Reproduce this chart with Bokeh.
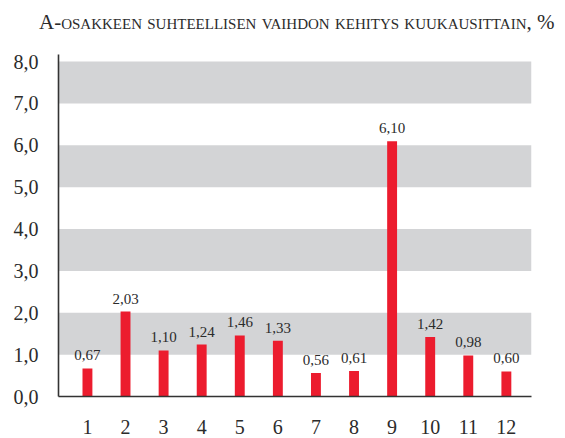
from bokeh.plotting import figure
from bokeh.models import Range1d, BoxAnnotation, ColumnDataSource, Div, FixedTicker
from bokeh.layouts import column
from bokeh.embed import file_html
from bokeh.resources import INLINE
from bokeh.core.properties import value

title_text = "A-osakkeen suhteellisen vaihdon kehitys kuukausittain, %"
months = [1, 2, 3, 4, 5, 6, 7, 8, 9, 10, 11, 12]
values = [0.67, 2.03, 1.10, 1.24, 1.46, 1.33, 0.56, 0.61, 6.10, 1.42, 0.98, 0.60]
y_ticks = [0, 1, 2, 3, 4, 5, 6, 7, 8]
band_bottoms = [1, 3, 5, 7]
band_tops = [2, 4, 6, 8]

FONT = "Liberation Serif"
TEXT = "#2b2b2b"

labels = [f"{v:.2f}".replace(".", ",") for v in values]
src = ColumnDataSource(dict(x=months, top=values, label=labels))

p = figure(width=557, height=401, output_backend="svg", toolbar_location=None,
           x_range=Range1d(0.24, 12.66), y_range=Range1d(0, 8.17),
           min_border_left=58, min_border_right=26, min_border_top=19, min_border_bottom=40)
p.outline_line_color = None
p.xgrid.visible = False
p.ygrid.visible = False
p.background_fill_color = "white"
p.border_fill_color = None

for b, t in zip(band_bottoms, band_tops):
    p.add_layout(BoxAnnotation(bottom=b, top=t, fill_color="#d3d4d6", fill_alpha=1.0,
                               line_color=None, level="underlay"))

p.vbar(x="x", top="top", width=0.26, bottom=0, source=src, fill_color="#ec1c2e", line_color=None)
p.text(x="x", y="top", text="label", source=src, text_align="center", text_baseline="bottom",
       y_offset=-8, text_font=value(FONT), text_font_size="15px", text_color=TEXT)

p.yaxis.ticker = FixedTicker(ticks=y_ticks)
p.yaxis.major_label_overrides = {t: f"{t:.1f}".replace(".", ",") for t in y_ticks}
p.xaxis.ticker = FixedTicker(ticks=months)
p.xaxis.major_label_overrides = {m: str(m) for m in months}
for ax in (p.xaxis[0], p.yaxis[0]):
    ax.axis_line_color = "#333333"
    ax.axis_line_width = 1.6
    ax.major_tick_line_color = None
    ax.minor_tick_line_color = None
    ax.major_label_text_font = FONT
    ax.major_label_text_font_size = "20px"
    ax.major_label_text_color = TEXT
p.yaxis.major_label_standoff = 14
p.xaxis.major_label_standoff = 17

div = Div(text=title_text, width=557, height=25,
          styles={"font-family": FONT, "font-size": "21px", "font-variant": "small-caps",
                  "color": TEXT, "line-height": "35px", "padding-left": "34px",
                  "box-sizing": "border-box", "white-space": "nowrap", "overflow": "visible"})

layout = column(div, p, spacing=0)
open("out.html", "w").write(file_html(layout, INLINE))
